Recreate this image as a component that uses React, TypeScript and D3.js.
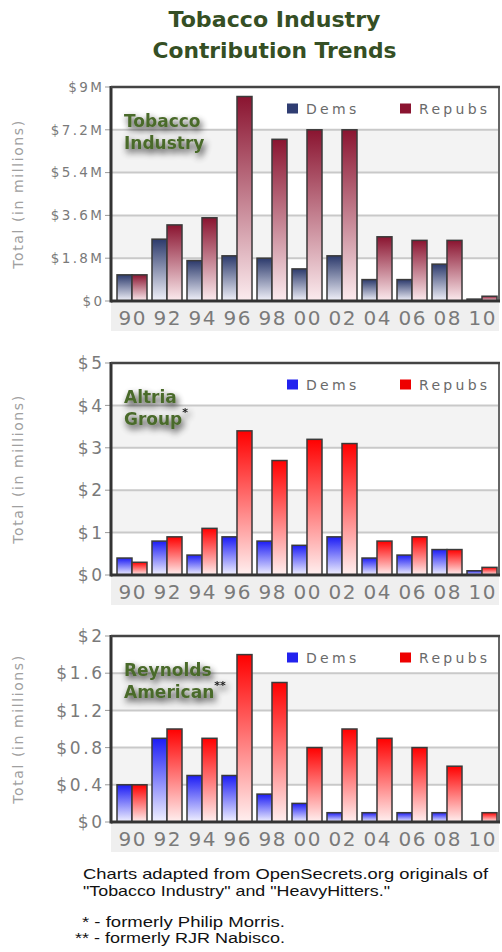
import React from "react";
import * as d3 from "d3";

const years = ["90", "92", "94", "96", "98", "00", "02", "04", "06", "08", "10"];

const tobaccoDems = [1.1, 2.6, 1.7, 1.9, 1.8, 1.35, 1.9, 0.9, 0.9, 1.55, 0.08];
const tobaccoRepubs = [1.1, 3.2, 3.5, 8.6, 6.8, 7.2, 7.2, 2.7, 2.55, 2.55, 0.2];
const altriaDems = [0.4, 0.8, 0.47, 0.9, 0.8, 0.7, 0.9, 0.4, 0.47, 0.6, 0.1];
const altriaRepubs = [0.3, 0.9, 1.1, 3.4, 2.7, 3.2, 3.1, 0.8, 0.9, 0.6, 0.18];
const reynoldsDems = [0.4, 0.9, 0.5, 0.5, 0.3, 0.2, 0.1, 0.1, 0.1, 0.1, 0];
const reynoldsRepubs = [0.4, 1.0, 0.9, 1.8, 1.5, 0.8, 1.0, 0.9, 0.8, 0.6, 0.1];

const tobaccoTicks = [0, 1.8, 3.6, 5.4, 7.2, 9];
const tobaccoTickLabels = ["$0", "$1.8M", "$3.6M", "$5.4M", "$7.2M", "$9M"];
const altriaTicks = [0, 1, 2, 3, 4, 5];
const altriaTickLabels = ["$0", "$1", "$2", "$3", "$4", "$5"];
const reynoldsTicks = [0, 0.4, 0.8, 1.2, 1.6, 2];
const reynoldsTickLabels = ["$0", "$0.4", "$0.8", "$1.2", "$1.6", "$2"];

const seriesNames = ["Dems", "Repubs"];

const titleLines = ["Tobacco Industry", "Contribution Trends"];
const footerLines = [
  "Charts adapted from OpenSecrets.org originals of",
  "\"Tobacco Industry\" and \"HeavyHitters.\"",
];
const footnotes = ["* - formerly Philip Morris.", "** - formerly RJR Nabisco."];

const W = 502;
const H = 952;
const LEFT = 111;
const RIGHT = 499;

type Panel = {
  id: string;
  top: number;
  bottom: number;
  dems: number[];
  repubs: number[];
  ticks: number[];
  tickLabels: string[];
  tickFont: number;
  tickSpacing: number;
  nameLines: string[];
  sup: string;
  demTop: string;
  demBottom: string;
  repTop: string;
  repBottom: string;
  demKey: string;
  repKey: string;
};

const panels: Panel[] = [
  {
    id: "p1",
    top: 87,
    bottom: 301,
    dems: tobaccoDems,
    repubs: tobaccoRepubs,
    ticks: tobaccoTicks,
    tickLabels: tobaccoTickLabels,
    tickFont: 13.5,
    tickSpacing: 2.4,
    nameLines: ["Tobacco", "Industry"],
    sup: "",
    demTop: "#2c3a6c",
    demBottom: "#f2f2fa",
    repTop: "#8a1430",
    repBottom: "#fcecef",
    demKey: "#2f3d72",
    repKey: "#8a1430",
  },
  {
    id: "p2",
    top: 363,
    bottom: 575,
    dems: altriaDems,
    repubs: altriaRepubs,
    ticks: altriaTicks,
    tickLabels: altriaTickLabels,
    tickFont: 17,
    tickSpacing: 2.6,
    nameLines: ["Altria", "Group"],
    sup: "*",
    demTop: "#1c1cf5",
    demBottom: "#f2f2ff",
    repTop: "#ff0000",
    repBottom: "#fff0f0",
    demKey: "#2222ee",
    repKey: "#ee0000",
  },
  {
    id: "p3",
    top: 636,
    bottom: 822,
    dems: reynoldsDems,
    repubs: reynoldsRepubs,
    ticks: reynoldsTicks,
    tickLabels: reynoldsTickLabels,
    tickFont: 17,
    tickSpacing: 2.6,
    nameLines: ["Reynolds", "American"],
    sup: "**",
    demTop: "#1c1cf5",
    demBottom: "#f2f2ff",
    repTop: "#ff0000",
    repBottom: "#fff0f0",
    demKey: "#2222ee",
    repKey: "#ee0000",
  },
];

const x0 = d3.scaleBand<string>().domain(years).range([117, 497]).paddingInner(5 / 35).paddingOuter(0);
const x1 = d3.scaleBand<string>().domain(seriesNames).range([0, x0.bandwidth()]).padding(0);

function PanelView({ p }: { p: Panel }) {
  const yMax = p.ticks[p.ticks.length - 1];
  const y = d3.scaleLinear().domain([0, yMax]).range([p.bottom, p.top]);
  const bands = p.ticks.slice(0, -1).map((t, i) => ({ lo: t, hi: p.ticks[i + 1], i }));
  const yTitleY = (p.top + p.bottom) / 2;
  const rows = years.map((yr, i) => ({ yr, vals: [p.dems[i], p.repubs[i]] }));
  return (
    <g>
      <defs>
        <linearGradient id={`${p.id}-dem`} x1="0" y1="0" x2="0" y2="1">
          <stop offset="0" stopColor={p.demTop} />
          <stop offset="1" stopColor={p.demBottom} />
        </linearGradient>
        <linearGradient id={`${p.id}-rep`} x1="0" y1="0" x2="0" y2="1">
          <stop offset="0" stopColor={p.repTop} />
          <stop offset="1" stopColor={p.repBottom} />
        </linearGradient>
      </defs>
      <rect x={LEFT} y={p.top} width={RIGHT - LEFT} height={p.bottom - p.top} fill="#ffffff" />
      {bands.map((b) =>
        b.i % 2 === 1 ? (
          <rect key={b.i} x={LEFT} y={y(b.hi)} width={RIGHT - LEFT} height={y(b.lo) - y(b.hi)} fill="#f3f3f3" />
        ) : null
      )}
      <rect x={LEFT} y={p.bottom + 2} width={RIGHT - LEFT} height={28} fill="#efefef" />
      {p.ticks.slice(1, -1).map((t) => (
        <line key={t} x1={LEFT} x2={RIGHT} y1={y(t)} y2={y(t)} stroke="#c9c9c9" strokeWidth={2} />
      ))}
      {p.ticks.map((t) => (
        <line key={"tk" + t} x1={LEFT - 6} x2={LEFT} y1={y(t)} y2={y(t)} stroke="#999" strokeWidth={1} />
      ))}
      {rows.map((r) => (
        <g key={r.yr} transform={`translate(${x0(r.yr)},0)`}>
          {r.vals.map((v, j) =>
            v > 0 ? (
              <rect
                key={j}
                x={x1(seriesNames[j])}
                y={y(v)}
                width={x1.bandwidth()}
                height={p.bottom - y(v)}
                fill={`url(#${p.id}-${j === 0 ? "dem" : "rep"})`}
                stroke="#3a3a3a"
                strokeWidth={1.5}
              />
            ) : null
          )}
        </g>
      ))}
      <rect x={LEFT} y={p.top} width={RIGHT - LEFT} height={p.bottom - p.top} fill="none" stroke="#666" strokeWidth={2} />
      <line x1={LEFT} x2={LEFT} y1={p.top - 1} y2={p.bottom + 1.5} stroke="#333" strokeWidth={3} />
      <line x1={LEFT} x2={RIGHT + 1} y1={p.bottom} y2={p.bottom} stroke="#333" strokeWidth={3} />
      <line x1={LEFT} x2={RIGHT + 1} y1={p.top} y2={p.top} stroke="#444" strokeWidth={2.5} />
      {p.ticks.map((t, i) => (
        <text
          key={"tl" + t}
          x={102 + p.tickSpacing}
          y={y(t)}
          dy="0.36em"
          textAnchor="end"
          fontFamily="DejaVu Sans, Verdana, sans-serif"
          fontSize={p.tickFont}
          letterSpacing={p.tickSpacing}
          fill="#7a7a7a"
        >
          {p.tickLabels[i]}
        </text>
      ))}
      {years.map((yr) => (
        <text
          key={"xl" + yr}
          x={(x0(yr) as number) + x0.bandwidth() / 2 + 0.8}
          y={p.bottom + 17}
          dy="0.36em"
          textAnchor="middle"
          fontFamily="DejaVu Sans, Verdana, sans-serif"
          fontSize={20}
          letterSpacing={1.5}
          fill="#7a7a7a"
        >
          {yr}
        </text>
      ))}
      <text
        transform={`translate(23,${yTitleY}) rotate(-90)`}
        textAnchor="middle"
        fontFamily="DejaVu Sans, Verdana, sans-serif"
        fontSize={14}
        letterSpacing={1.6}
        fill="#a0a0a0"
      >
        Total (in millions)
      </text>
      {seriesNames.map((s, j) => {
        const sx = j === 0 ? 287 : 400;
        const cy = p.top + 21.5;
        return (
          <g key={s}>
            <rect x={sx} y={cy - 5} width={11} height={10} fill={j === 0 ? p.demKey : p.repKey} />
            <text
              x={sx + 19}
              y={cy}
              dy="0.36em"
              fontFamily="DejaVu Sans, Verdana, sans-serif"
              fontSize={14}
              letterSpacing={3.3}
              fill="#6a6a6a"
            >
              {s}
            </text>
          </g>
        );
      })}
      <g filter="url(#nameShadow)">
        {p.nameLines.map((ln, i) => (
          <text
            key={ln}
            x={124}
            y={p.top + 40 + i * 22}
            fontFamily="DejaVu Sans, Verdana, sans-serif"
            fontWeight="bold"
            fontSize={17}
            fill="#4a6a2a"
          >
            {ln}
            {i === 1 && p.sup ? (
              <tspan fontSize={11} dy={-9} fill="#222">
                {p.sup}
              </tspan>
            ) : null}
          </text>
        ))}
      </g>
    </g>
  );
}

export default function App() {
  return (
    <svg
      width={W}
      height={H}
      viewBox={`0 0 ${W} ${H}`}
      style={{ position: "absolute", left: 0, top: 0, background: "#fff" }}
    >
      <defs>
        <filter id="nameShadow" x="-20%" y="-40%" width="140%" height="200%">
          <feGaussianBlur in="SourceAlpha" stdDeviation="3.5" result="blur" />
          <feOffset in="blur" dx="2" dy="4" result="off" />
          <feComponentTransfer in="off" result="shadow">
            <feFuncA type="linear" slope="0.85" />
          </feComponentTransfer>
          <feMerge>
            <feMergeNode in="shadow" />
            <feMergeNode in="SourceGraphic" />
          </feMerge>
        </filter>
      </defs>
      <rect width={W} height={H} fill="#fff" />
      {titleLines.map((t, i) => (
        <text
          key={t}
          x={274.5}
          y={27 + i * 31}
          textAnchor="middle"
          fontFamily="DejaVu Sans, Verdana, sans-serif"
          fontWeight="bold"
          fontSize={21.5}
          textLength={i === 0 ? 212 : 244}
          lengthAdjust="spacingAndGlyphs"
          fill="#354f24"
        >
          {t}
        </text>
      ))}
      {panels.map((p) => (
        <PanelView key={p.id} p={p} />
      ))}
      {footerLines.map((t, i) => (
        <text
          key={t}
          x={83}
          y={879 + i * 17}
          fontFamily="Liberation Sans, Arial, sans-serif"
          fontSize={14.5}
          textLength={i === 0 ? 405 : 307}
          lengthAdjust="spacingAndGlyphs"
          fill="#111"
        >
          {t}
        </text>
      ))}
      {footnotes.map((t, i) => (
        <text
          key={t}
          x={i === 0 ? 82 : 75}
          y={927 + i * 16}
          fontFamily="Liberation Sans, Arial, sans-serif"
          fontSize={14}
          textLength={i === 0 ? 203 : 210}
          lengthAdjust="spacingAndGlyphs"
          fill="#111"
        >
          {t}
        </text>
      ))}
    </svg>
  );
}
